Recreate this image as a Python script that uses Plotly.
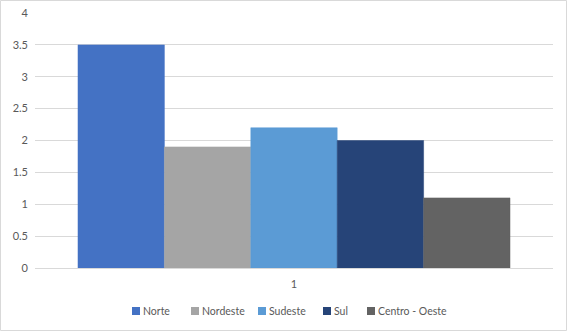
import plotly.graph_objects as go

categories = ["1"]
regions = ["Norte", "Nordeste", "Sudeste", "Sul", "Centro - Oeste"]
values = [3.5, 1.9, 2.2, 2.0, 1.1]
colors = ["#4472C4", "#A5A5A5", "#5B9BD5", "#264478", "#636363"]

W, H = 567, 331
L, R, T, B = 35, 14, 13, 63
pw = W - L - R
ph = H - T - B
FONT = "Lato, Open Sans, sans-serif"
TXT = "#595959"

fig = go.Figure()
for name, v, c in zip(regions, values, colors):
    fig.add_trace(go.Bar(
        x=categories, y=[v], name=name, showlegend=False,
        marker=dict(color=c, line=dict(color=c, width=0.5)),
    ))

# Legend row built from small squares and text (x positions in pixels)
legend_x = [132, 191, 258, 323, 367]
legend_y = 311
sq = 8
shapes = []
annotations = []
for name, c, lx in zip(regions, colors, legend_x):
    shapes.append(dict(type="rect", xref="paper", yref="paper",
                       x0=(lx - L) / pw, x1=(lx + sq - L) / pw,
                       y0=(H - B - (legend_y + sq / 2)) / ph,
                       y1=(H - B - (legend_y - sq / 2)) / ph,
                       fillcolor=c, line=dict(width=0)))
    annotations.append(dict(xref="paper", yref="paper",
                            x=(lx + sq + 1 - L) / pw, y=(H - B - legend_y) / ph,
                            xanchor="left", yanchor="middle", showarrow=False,
                            text=name, font=dict(family=FONT, size=10.5, color=TXT)))

# Outer chart border
shapes.append(dict(type="rect", xref="paper", yref="paper",
                   x0=-(L - 0.5) / pw, x1=1 + (R - 0.5) / pw,
                   y0=-(B - 0.5) / ph, y1=1 + (T - 0.5) / ph,
                   line=dict(color="#D9D9D9", width=1)))

fig.update_layout(
    width=W, height=H,
    margin=dict(l=L, r=R, t=T, b=B, autoexpand=False),
    paper_bgcolor="white", plot_bgcolor="white",
    barmode="group", bargap=0.166, bargroupgap=0,
    showlegend=False,
    font=dict(family=FONT, size=11, color=TXT),
    xaxis=dict(type="category", showgrid=False, ticks="", showline=False,
               ticklabelstandoff=8, tickfont=dict(family=FONT, size=11, color=TXT)),
    yaxis=dict(range=[0, 4], dtick=0.5, showgrid=True, gridcolor="#D9D9D9",
               gridwidth=1, zeroline=True, zerolinecolor="#D9D9D9", zerolinewidth=1,
               ticks="", ticklabelstandoff=6,
               tickfont=dict(family=FONT, size=11, color=TXT), tickformat="~g"),
    shapes=shapes,
    annotations=annotations,
)

fig.write_html("out.html")
